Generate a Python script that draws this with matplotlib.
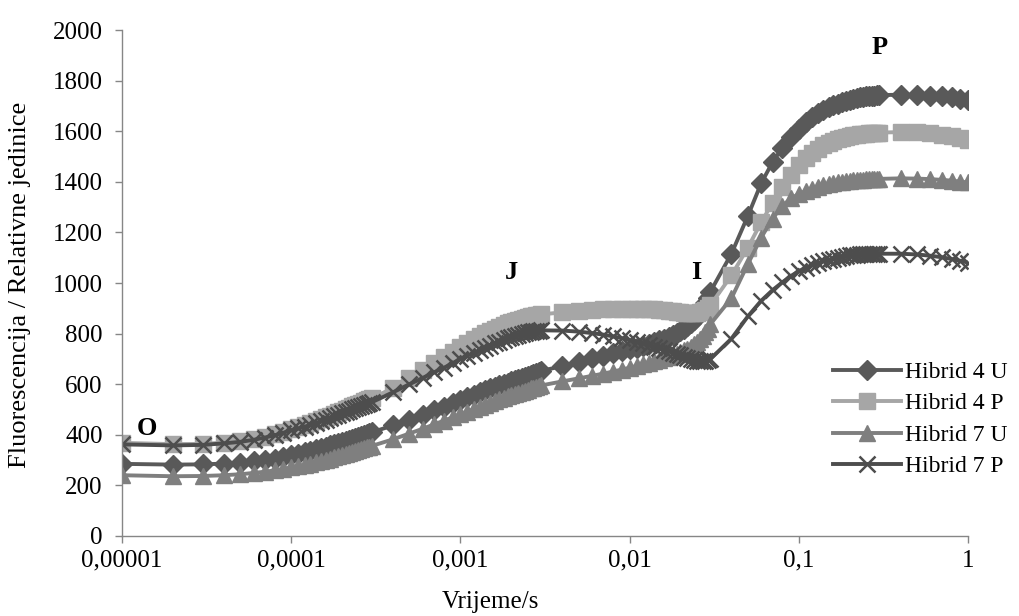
import matplotlib
matplotlib.use('Agg')
import matplotlib.pyplot as plt
from matplotlib.ticker import FixedLocator, FixedFormatter

# vrijeme u mikrosekundama (Handy PEA mreza)
time_us = [10, 20, 30, 40, 50, 60, 70, 80, 90, 100,
           110, 120, 130, 140, 150, 160, 170, 180, 190, 200,
           210, 220, 230, 240, 250, 260, 270, 280, 290, 300,
           400, 500, 600, 700, 800, 900, 1000, 1100, 1200, 1300,
           1400, 1500, 1600, 1700, 1800, 1900, 2000, 2100, 2200, 2300,
           2400, 2500, 2600, 2700, 2800, 2900, 3000,
           4000, 5000, 6000, 7000, 8000, 9000, 10000, 11000, 12000, 13000,
           14000, 15000, 16000, 17000, 18000, 19000, 20000, 21000, 22000, 23000,
           24000, 25000, 26000, 27000, 28000, 29000, 30000,
           40000, 50000, 60000, 70000, 80000, 90000, 100000, 110000, 120000, 130000,
           140000, 150000, 160000, 170000, 180000, 190000, 200000, 210000, 220000, 230000,
           240000, 250000, 260000, 270000, 280000, 290000, 300000,
           400000, 500000, 600000, 700000, 800000, 900000, 1000000]

hibrid_4u = [285, 282, 283, 286, 290, 295, 300, 306, 312, 319,
             325, 331, 337, 343, 348, 353, 358, 363, 367, 372,
             376, 380, 384, 388, 392, 396, 399, 403, 406, 410,
             437, 460, 479, 496, 511, 525, 538, 549, 559, 568,
             576, 583, 590, 596, 601, 606, 611, 616, 620, 624,
             628, 632, 636, 640, 644, 648, 652,
             672, 689, 702, 713, 722, 730, 738, 745, 752, 759,
             766, 773, 780, 787, 795, 803, 811, 820, 830, 842,
             855, 869, 884, 900, 920, 942, 965,
             1116, 1265, 1395, 1478, 1535, 1577, 1610, 1636, 1656, 1672,
             1685, 1695, 1703, 1710, 1716, 1721, 1725, 1728, 1731, 1734,
             1736, 1738, 1739, 1740, 1741, 1742, 1743,
             1745, 1744, 1741, 1738, 1734, 1729, 1724]

hibrid_4p = [368, 363, 364, 369, 376, 384, 393, 402, 412, 423,
             431, 439, 447, 455, 462, 469, 476, 483, 489, 495,
             501, 507, 512, 517, 522, 527, 532, 536, 540, 544,
             585, 625, 658, 685, 708, 728, 747, 763, 777, 790,
             801, 811, 820, 828, 835, 841, 846, 851, 855, 859,
             862, 865, 868, 870, 872, 874, 876,
             884, 889, 893, 896, 898, 899, 899, 899, 898, 897,
             896, 895, 893, 891, 889, 887, 885, 883, 882, 881,
             881, 882, 884, 888, 894, 902, 912,
             1030, 1140, 1240, 1318, 1380, 1428, 1465, 1493, 1515, 1532,
             1545, 1555, 1563, 1569, 1574, 1578, 1581, 1584, 1586, 1588,
             1590, 1591, 1592, 1593, 1594, 1594, 1595,
             1597, 1596, 1592, 1587, 1580, 1573, 1565]

hibrid_7u = [240, 236, 237, 240, 244, 249, 254, 259, 265, 271,
             276, 281, 286, 291, 296, 301, 306, 311, 316, 320,
             324, 328, 332, 336, 340, 344, 347, 350, 353, 356,
             382, 405, 424, 441, 456, 469, 481, 492, 502, 511,
             519, 527, 534, 540, 546, 552, 557, 562, 567, 571,
             575, 579, 583, 586, 589, 592, 595,
             611, 623, 633, 642, 650, 658, 665, 672, 679, 685,
             691, 697, 703, 709, 715, 721, 727, 734, 741, 749,
             758, 768, 779, 791, 805, 820, 837,
             940, 1075, 1180, 1255, 1305, 1335, 1352, 1364, 1373, 1380,
             1386, 1391, 1395, 1398, 1401, 1403, 1405, 1406, 1407, 1408,
             1409, 1410, 1410, 1411, 1411, 1412, 1412,
             1414, 1413, 1411, 1408, 1405, 1401, 1398]

hibrid_7p = [362, 358, 360, 366, 372, 380, 389, 398, 408, 418,
             425, 432, 439, 446, 453, 460, 466, 473, 479, 485,
             490, 495, 500, 505, 509, 513, 517, 521, 525, 529,
             568, 600, 625, 647, 665, 683, 700, 713, 725, 735,
             745, 753, 761, 768, 775, 781, 787, 791, 795, 799,
             802, 805, 807, 809, 811, 812, 813,
             812, 808, 802, 796, 789, 782, 775, 768, 761, 755,
             749, 743, 737, 731, 725, 719, 714, 709, 704, 700,
             696, 693, 691, 690, 691, 694, 699,
             780, 868, 930, 972, 1003, 1028, 1047, 1060, 1071, 1079,
             1086, 1092, 1097, 1101, 1104, 1107, 1109, 1111, 1112, 1113,
             1114, 1115, 1115, 1116, 1116, 1116, 1116,
             1116, 1113, 1108, 1102, 1095, 1088, 1081]

series_names = ['Hibrid 4 U', 'Hibrid 4 P', 'Hibrid 7 U', 'Hibrid 7 P']
xtick_values = [0.00001, 0.0001, 0.001, 0.01, 0.1, 1]
xtick_labels = ['0,00001', '0,0001', '0,001', '0,01', '0,1', '1']
ytick_values = [0, 200, 400, 600, 800, 1000, 1200, 1400, 1600, 1800, 2000]

# oznake faza OJIP (vrijeme s, fluorescencija)
phase_labels = ['O', 'J', 'I', 'P']
phase_t = [0.000014, 0.002, 0.0247, 0.3]
phase_f = [426, 1041, 1041, 1933]

plt.rcParams['font.family'] = ['Liberation Serif', 'DejaVu Serif']

fig = plt.figure(figsize=(10.19, 6.16), dpi=100)
ax = fig.add_axes([0.1197, 0.130, 0.8302, 0.821])

t = [v / 1e6 for v in time_us]
ax.plot(t, hibrid_4u, color='#595959', lw=2.8, marker='D', ms=10,
        mfc='#595959', mec='#595959', label=series_names[0])
ax.plot(t, hibrid_4p, color='#A6A6A6', lw=2.8, marker='s', ms=11,
        mfc='#A6A6A6', mec='#A6A6A6', label=series_names[1])
ax.plot(t, hibrid_7u, color='#7F7F7F', lw=2.8, marker='^', ms=12,
        mfc='#7F7F7F', mec='#7F7F7F', label=series_names[2])
ax.plot(t, hibrid_7p, color='#4D4D4D', lw=2.8, marker='x', ms=12,
        mew=1.8, mec='#4D4D4D', label=series_names[3])

ax.set_xscale('log')
ax.set_xlim(0.00001, 1)
ax.set_ylim(0, 2000)
ax.xaxis.set_major_locator(FixedLocator(xtick_values))
ax.xaxis.set_major_formatter(FixedFormatter(xtick_labels))
ax.xaxis.set_minor_locator(FixedLocator([]))
ax.set_yticks(ytick_values)

for s in ['top', 'right']:
    ax.spines[s].set_visible(False)
for s in ['left', 'bottom']:
    ax.spines[s].set_color('#868686')
    ax.spines[s].set_linewidth(1.0)
ax.tick_params(axis='both', direction='out', length=5, width=1.0,
               color='#868686', labelsize=18)
ax.tick_params(axis='y', pad=9)
ax.tick_params(axis='x', pad=5)

ax.set_xlabel('Vrijeme/s', fontsize=18)
ax.xaxis.set_label_coords(0.435, -0.108)
ax.set_ylabel('Fluorescencija / Relativne jedinice', fontsize=19)
ax.yaxis.set_label_coords(-0.108, 0.496)

for lab, xt, yf in zip(phase_labels, phase_t, phase_f):
    ax.text(xt, yf, lab, fontsize=19, fontweight='bold', ha='center', va='center')

ax.legend(loc='upper left', bbox_to_anchor=(0.840, 0.345), frameon=False,
          handlelength=2.9, handletextpad=0.15, labelspacing=0.42,
          borderaxespad=0, borderpad=0, fontsize=17)

fig.savefig('out.png', dpi=100)
